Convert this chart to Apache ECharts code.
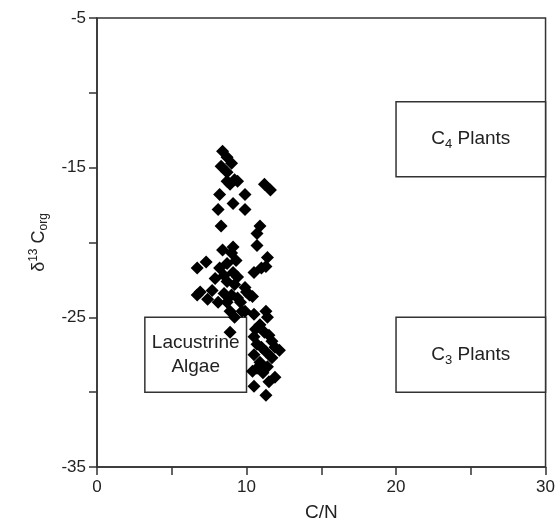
<!DOCTYPE html>
<html>
<head>
<meta charset="utf-8">
<script src="https://cdn.jsdelivr.net/npm/echarts@6/dist/echarts.min.js"></script>
<style>
  html, body { margin: 0; padding: 0; background: #fff; }
  #chart { width: 558px; height: 528px; }
</style>
</head>
<body>
<div id="chart"></div>
<script>
// C/N vs d13C org
const samples = [
  [8.4, -13.9], [8.7, -14.3], [9.0, -14.7], [8.3, -14.9], [8.7, -15.3],
  [8.7, -15.9], [9.2, -15.8], [8.9, -16.1], [9.4, -15.9], [11.2, -16.1],
  [11.6, -16.5], [8.2, -16.8], [9.9, -16.8], [9.1, -17.4], [8.1, -17.8],
  [9.9, -17.8], [8.3, -18.9], [10.9, -18.9], [10.7, -19.4], [10.7, -20.2],
  [9.1, -20.3], [8.4, -20.5], [9.0, -20.7], [7.3, -21.3], [6.7, -21.7],
  [8.2, -21.7], [8.7, -21.4], [9.3, -21.2], [11.4, -21.0], [11.3, -21.6],
  [10.5, -22.0], [11.0, -21.7], [8.5, -22.2], [9.1, -22.0], [9.4, -22.3],
  [8.7, -22.6], [7.9, -22.4], [9.2, -22.8], [6.9, -23.3], [7.7, -23.2],
  [6.7, -23.5], [7.4, -23.8], [8.5, -23.4], [9.0, -23.5], [9.9, -23.0],
  [10.2, -23.5], [10.0, -23.3], [10.4, -23.6], [8.1, -24.0], [8.7, -24.0],
  [9.4, -23.7], [9.6, -24.0], [8.9, -24.6], [9.7, -24.6], [9.2, -25.0],
  [8.9, -26.0], [9.9, -24.6], [10.5, -24.8], [11.4, -25.0], [11.3, -24.6],
  [10.9, -25.5], [11.2, -26.0], [10.5, -26.3], [11.7, -26.6], [12.2, -27.2],
  [10.7, -26.8], [11.3, -27.3], [10.5, -27.5], [11.7, -27.7], [10.9, -28.0],
  [11.4, -28.3], [10.7, -28.4], [11.1, -28.7], [11.9, -29.0], [11.5, -29.3],
  [10.5, -29.6], [11.3, -30.2], [10.4, -28.6], [11.0, -27.0], [11.5, -26.2],
  [10.6, -25.8], [11.9, -27.0]
];

// source fields: [label, xFrom, xTo, yTop, yBottom]
const fields = [
  ["{a|C}{s|4}{a| Plants}", 20, 30, -10.6, -15.6],
  ["{a|C}{s|3}{a| Plants}", 20, 30, -25, -30],
  ["{a|Lacustrine}\n{a|Algae}", 3.2, 10, -25, -30]
];

const xTicks = [0, 10, 20, 30];
const yTicks = [-35, -25, -15, -5];

const font = "'Liberation Sans', Arial, Helvetica, sans-serif";
const ink = "#333";

const chart = echarts.init(document.getElementById("chart"));

chart.setOption({
  animation: false,
  grid: {
    left: 97,
    right: 11,
    top: 18,
    bottom: 61,
    show: true,
    borderColor: ink,
    borderWidth: 1.5,
    backgroundColor: "#fff"
  },
  xAxis: {
    type: "value",
    min: 0,
    max: 30,
    interval: 5,
    name: "C/N",
    nameLocation: "middle",
    nameGap: 36,
    nameTextStyle: { color: "#222", fontSize: 19, fontFamily: font },
    axisLine: { show: true, onZero: false, lineStyle: { color: ink, width: 1.5 } },
    axisTick: { show: true, length: 8, lineStyle: { color: ink, width: 1.5 } },
    axisLabel: {
      color: "#222",
      fontSize: 17,
      fontFamily: font,
      margin: 12,
      formatter: v => (xTicks.includes(v) ? String(v) : "")
    },
    splitLine: { show: false }
  },
  yAxis: {
    type: "value",
    min: -35,
    max: -5,
    interval: 5,
    name: "{d|δ}{sup|13}{c| C}{sub|org}",
    nameLocation: "middle",
    nameGap: 47,
    nameRotate: 90,
    nameTextStyle: {
      color: "#222",
      fontFamily: font,
      rich: {
        d: { fontSize: 18, lineHeight: 22, fontFamily: font, color: "#222" },
        c: { fontSize: 18, lineHeight: 22, fontFamily: font, color: "#222" },
        sup: { fontSize: 12, lineHeight: 12, verticalAlign: "top", fontFamily: font, color: "#222" },
        sub: { fontSize: 12, lineHeight: 12, verticalAlign: "bottom", fontFamily: font, color: "#222" }
      }
    },
    axisLine: { show: true, onZero: false, lineStyle: { color: ink, width: 1.5 } },
    axisTick: { show: true, length: 8, lineStyle: { color: ink, width: 1.5 } },
    axisLabel: {
      color: "#222",
      fontSize: 17,
      fontFamily: font,
      margin: 11,
      formatter: v => (yTicks.includes(v) ? String(v) : "")
    },
    splitLine: { show: false }
  },
  series: [
    {
      type: "scatter",
      data: samples,
      symbol: "diamond",
      symbolSize: 13,
      itemStyle: { color: "#000", opacity: 1 },
      z: 3,
      markArea: {
        silent: true,
        itemStyle: { color: "#fff", opacity: 1, borderColor: ink, borderWidth: 1.5 },
        label: {
          show: true,
          position: "inside",
          color: "#222",
          fontFamily: font,
          rich: {
            a: { fontSize: 19, lineHeight: 24, fontFamily: font, color: "#222" },
            s: { fontSize: 13, lineHeight: 14, verticalAlign: "bottom", fontFamily: font, color: "#222" }
          }
        },
        data: fields.map(f => [
          { name: f[0], coord: [f[1], f[3]] },
          { coord: [f[2], f[4]] }
        ])
      }
    }
  ]
});
</script>
</body>
</html>
